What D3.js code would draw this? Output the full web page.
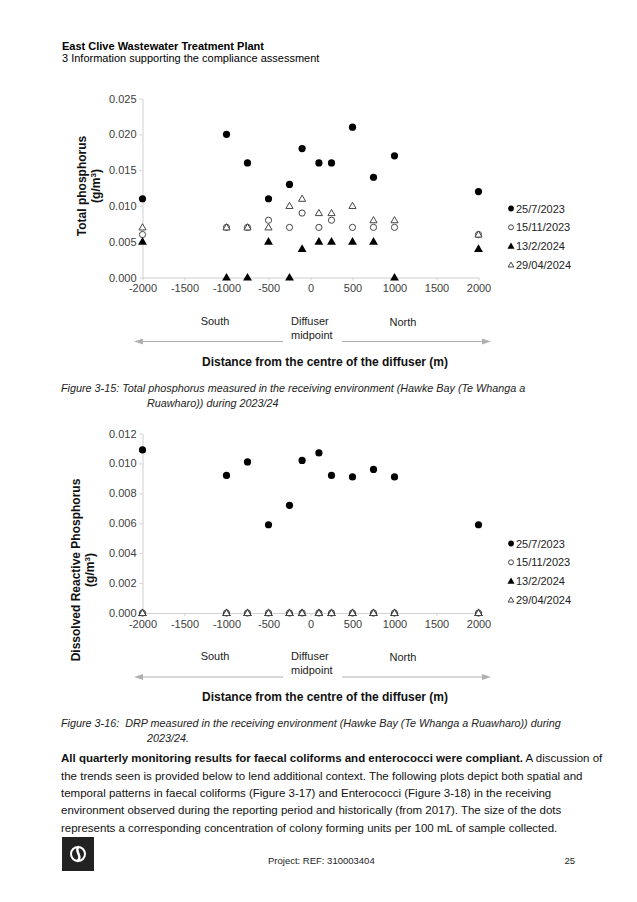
<!DOCTYPE html>
<html>
<head>
<meta charset="utf-8">
<script src="https://cdn.jsdelivr.net/npm/d3@7"></script>
<style>
  body { margin: 0; background: #fff; }
  svg { display: block; font-family: "Liberation Sans", Arial, sans-serif; }
  text { white-space: pre; }
</style>
</head>
<body>
<svg id="page" width="637" height="902"></svg>
<script>
// Sampling sites, metres from the diffuser centre (negative = south)
const distances = [-2000, -1000, -750, -500, -250, -100, 100, 250, 500, 750, 1000, 2000];
const seriesNames = ["25/7/2023", "15/11/2023", "13/2/2024", "29/04/2024"];

// Total phosphorus (g/m3)
const tpJul23 = [0.011, 0.020, 0.016, 0.011, 0.013, 0.018, 0.016, 0.016, 0.021, 0.014, 0.017, 0.012];
const tpNov23 = [0.006, 0.007, 0.007, 0.008, 0.007, 0.009, 0.007, 0.008, 0.007, 0.007, 0.007, 0.006];
const tpFeb24 = [0.005, 0.000, 0.000, 0.005, 0.000, 0.004, 0.005, 0.005, 0.005, 0.005, 0.000, 0.004];
const tpApr24 = [0.007, 0.007, 0.007, 0.007, 0.010, 0.011, 0.009, 0.009, 0.010, 0.008, 0.008, 0.006];

// Dissolved reactive phosphorus (g/m3)
const drpJul23 = [0.0109, 0.0092, 0.0101, 0.0059, 0.0072, 0.0102, 0.0107, 0.0092, 0.0091, 0.0096, 0.0091, 0.0059];
const drpNov23 = [0, 0, 0, 0, 0, 0, 0, 0, 0, 0, 0, 0];
const drpFeb24 = [0, 0, 0, 0, 0, 0, 0, 0, 0, 0, 0, 0];
const drpApr24 = [0, 0, 0, 0, 0, 0, 0, 0, 0, 0, 0, 0];

const xTicks = [-2000, -1500, -1000, -500, 0, 500, 1000, 1500, 2000];

const svg = d3.select("#page");
const ink = "#000";
const axisGrey = "#d0d0d0";
const labelGrey = "#404040";

// marker style per series: filled circle, open circle, filled triangle, open triangle
const markers = [
    { shape: "circle", fill: ink, stroke: "none" },
    { shape: "circle", fill: "#fff", stroke: "#444" },
    { shape: "triangle", fill: ink, stroke: "none" },
    { shape: "triangle", fill: "#fff", stroke: "#444" }
];

function drawMarker(g, m, cx, cy, scale) {
    if (m.shape === "circle") {
        const r = (m.fill === ink ? 3.6 : 3.1) * scale;
        g.append("circle").attr("cx", cx).attr("cy", cy).attr("r", r)
            .attr("fill", m.fill).attr("stroke", m.stroke).attr("stroke-width", 1);
    } else {
        const size = (m.fill === ink ? 34 : 22) * scale * scale;
        g.append("path").attr("d", d3.symbol(d3.symbolTriangle, size)())
            .attr("transform", `translate(${cx},${cy + 0.5})`)
            .attr("fill", m.fill).attr("stroke", m.stroke).attr("stroke-width", 1);
    }
}

// plain hyphen for negatives, like the source
const fmtX = d => d < 0 ? "-" + Math.abs(d) : String(d);

function drawPanel(p) {
    const x = d3.scaleLinear().domain([-2000, 2000]).range([142.5, 478.5]);
    const y = d3.scaleLinear().domain([0, p.yMax]).range([p.yBottom, p.yTop]);
    const g = svg.append("g");

    // y axis
    const yAxis = g.append("g").attr("transform", `translate(${x(-2000)},0)`)
        .call(d3.axisLeft(y).tickValues(d3.range(0, p.yMax + p.yStep / 2, p.yStep))
            .tickFormat(d3.format(".3f")).tickSize(3).tickSizeOuter(0).tickPadding(3));
    // x axis
    const xAxis = g.append("g").attr("transform", `translate(0,${y(0)})`)
        .call(d3.axisBottom(x).tickValues(xTicks).tickFormat(fmtX)
            .tickSize(3).tickSizeOuter(0).tickPadding(4));
    [yAxis, xAxis].forEach(a => {
        a.select(".domain").attr("stroke", axisGrey);
        a.selectAll(".tick line").attr("stroke", axisGrey);
        a.selectAll(".tick text").attr("fill", labelGrey).attr("font-size", 11)
            .attr("font-family", "Liberation Sans, Arial, sans-serif");
    });

    // y title (two lines, bold)
    const tx = p.titleX, ty = p.titleY;
    const title = g.append("text").attr("transform", `translate(${tx},${ty}) rotate(-90)`)
        .attr("text-anchor", "middle").attr("font-size", 12).attr("font-weight", "bold").attr("fill", "#111");
    title.append("tspan").attr("x", 0).attr("dy", 0).text(p.title);
    const unit = title.append("tspan").attr("x", 0).attr("dy", 14);
    unit.append("tspan").text("(g/m");
    unit.append("tspan").attr("font-size", 8).attr("dy", -4).text("3");
    unit.append("tspan").attr("dy", 4).text(")");

    // points
    const pts = g.append("g");
    p.series.forEach((vals, si) => {
        vals.forEach((v, i) => drawMarker(pts, markers[si], x(distances[i]), y(v), 1));
    });

    // legend
    const lg = g.append("g");
    seriesNames.forEach((name, si) => {
        const ly = p.legendY + si * 18.8;
        drawMarker(lg, markers[si], 511, ly, 0.8);
        lg.append("text").attr("x", 516).attr("y", ly + 4).attr("font-size", 11)
            .attr("fill", "#222").text(name);
    });

    // direction annotation below axis
    const base = p.yBottom;
    const ann = g.append("g").attr("font-size", 11).attr("fill", "#222");
    ann.append("text").attr("x", 215).attr("y", base + 47).attr("text-anchor", "middle").text("South");
    ann.append("text").attr("x", 291).attr("y", base + 47).text("Diffuser");
    ann.append("text").attr("x", 291).attr("y", base + 61).text("midpoint");
    ann.append("text").attr("x", 403).attr("y", base + 48).attr("text-anchor", "middle").text("North");
    const ay = base + 64;
    ann.append("line").attr("x1", 140).attr("x2", 283).attr("y1", ay).attr("y2", ay)
        .attr("stroke", "#b0b0b0").attr("stroke-width", 1.2);
    ann.append("path").attr("d", `M134,${ay} L143,${ay - 3} L143,${ay + 3} Z`).attr("fill", "#b0b0b0");
    ann.append("line").attr("x1", 342).attr("x2", 485).attr("y1", ay).attr("y2", ay)
        .attr("stroke", "#b0b0b0").attr("stroke-width", 1.2);
    ann.append("path").attr("d", `M491,${ay} L482,${ay - 3} L482,${ay + 3} Z`).attr("fill", "#b0b0b0");
    g.append("text").attr("x", 325).attr("y", base + 88).attr("text-anchor", "middle")
        .attr("font-size", 12).attr("font-weight", "bold").attr("fill", "#111")
        .text("Distance from the centre of the diffuser (m)");
}

// header
svg.append("text").attr("x", 62).attr("y", 49.5).attr("font-size", 11).attr("font-weight", "bold")
    .text("East Clive Wastewater Treatment Plant");
svg.append("text").attr("x", 62).attr("y", 61.5).attr("font-size", 11)
    .text("3 Information supporting the compliance assessment");

drawPanel({
    yMax: 0.025, yStep: 0.005, yTop: 98.5, yBottom: 277.5, titleX: 86, titleY: 186,
    title: "Total phosphorus", legendY: 208.5,
    series: [tpJul23, tpNov23, tpFeb24, tpApr24]
});

drawPanel({
    yMax: 0.012, yStep: 0.002, yTop: 433.5, yBottom: 613, titleX: 80, titleY: 570,
    title: "Dissolved Reactive Phosphorus", legendY: 543.5,
    series: [drpJul23, drpNov23, drpFeb24, drpApr24]
});

// captions
function caption(lines, y0) {
    const t = svg.append("text").attr("font-size", 10.8).attr("font-style", "italic").attr("fill", "#222");
    lines.forEach((l, i) => t.append("tspan").attr("x", i === 0 ? 61 : 147).attr("y", y0 + i * 15).text(l));
}
caption(["Figure 3-15: Total phosphorus measured in the receiving environment (Hawke Bay (Te Whanga a",
         "Ruawharo)) during 2023/24"], 392);
caption(["Figure 3-16:  DRP measured in the receiving environment (Hawke Bay (Te Whanga a Ruawharo)) during",
         "2023/24."], 727);

// body paragraph
const para = [
    "A discussion of",
    "the trends seen is provided below to lend additional context. The following plots depict both spatial and",
    "temporal patterns in faecal coliforms (Figure 3-17) and Enterococci (Figure 3-18) in the receiving",
    "environment observed during the reporting period and historically (from 2017). The size of the dots",
    "represents a corresponding concentration of colony forming units per 100 mL of sample collected."
];
const pt = svg.append("text").attr("font-size", 11.5).attr("fill", "#111");
pt.append("tspan").attr("x", 61).attr("y", 762).attr("font-weight", "bold")
    .text("All quarterly monitoring results for faecal coliforms and enterococci were compliant.");
pt.append("tspan").text(" " + para[0]);
para.slice(1).forEach((l, i) => pt.append("tspan").attr("x", 61).attr("y", 779.5 + i * 17.4).text(l));

// footer
svg.append("rect").attr("x", 62).attr("y", 837).attr("width", 32).attr("height", 34).attr("fill", "#222");
svg.append("circle").attr("cx", 78).attr("cy", 854).attr("r", 7).attr("fill", "none")
    .attr("stroke", "#fff").attr("stroke-width", 2);
svg.append("path").attr("d", "M79,846.5 C73,850.5 84,856.5 77,861.5").attr("fill", "none")
    .attr("stroke", "#fff").attr("stroke-width", 2.5);
svg.append("text").attr("x", 268).attr("y", 864).attr("font-size", 9.5).attr("fill", "#222")
    .text("Project: REF: 310003404");
svg.append("text").attr("x", 575).attr("y", 864).attr("font-size", 9.5).attr("text-anchor", "end")
    .attr("fill", "#222").text("25");
</script>
</body>
</html>
